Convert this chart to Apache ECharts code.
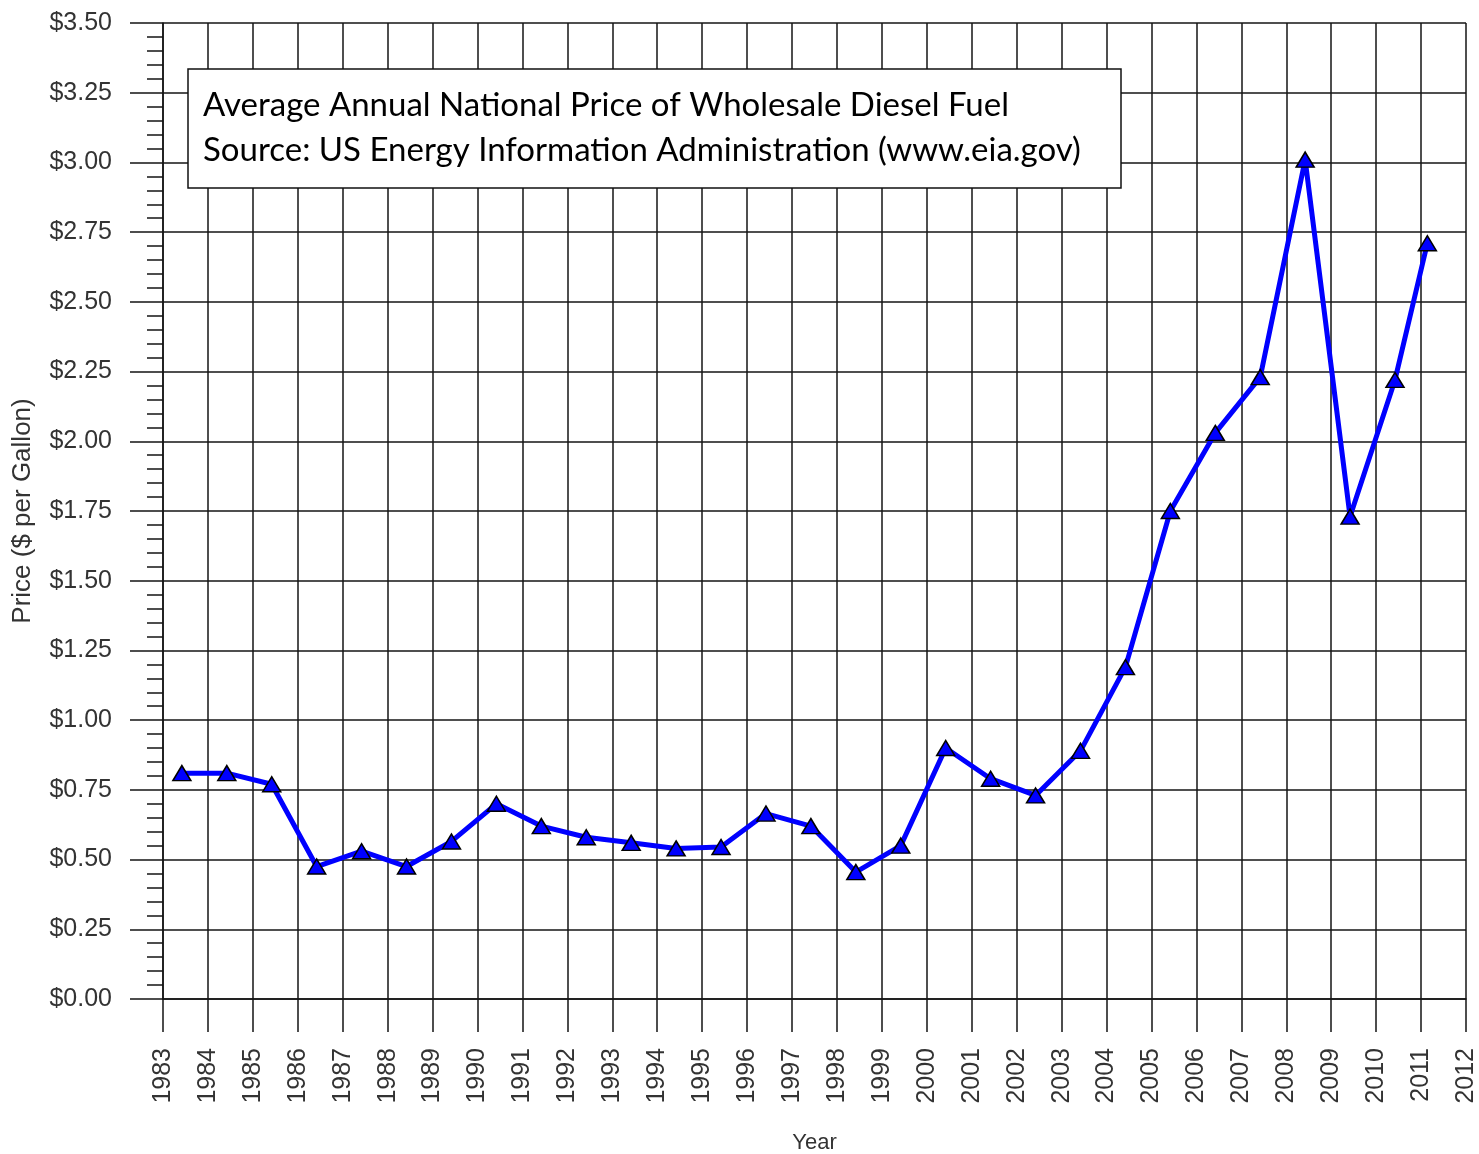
<!DOCTYPE html>
<html>
<head>
<meta charset="utf-8">
<script src="https://cdn.jsdelivr.net/npm/echarts@6/dist/echarts.min.js"></script>
<style>
html,body{margin:0;padding:0;background:#fff;}
#c{width:1479px;height:1154px;}
</style>
</head>
<body>
<div id="c"></div>
<script>
// Year position (mid-year plotting) and price in $ per gallon
const years = [1983.42,1984.42,1985.42,1986.42,1987.42,1988.42,1989.42,1990.42,1991.42,1992.42,1993.42,1994.42,1995.42,1996.42,1997.42,1998.42,1999.42,2000.42,2001.42,2002.42,2003.42,2004.42,2005.42,2006.42,2007.42,2008.42,2009.42,2010.42,2011.14];
const prices = [0.81,0.81,0.77,0.475,0.53,0.475,0.565,0.70,0.62,0.58,0.56,0.54,0.545,0.665,0.62,0.455,0.55,0.90,0.79,0.73,0.89,1.19,1.75,2.03,2.23,3.01,1.73,2.22,2.71];
const titleLines = ["Average Annual National Price of Wholesale Diesel Fuel","Source: US Energy Information Administration (www.eia.gov)"];
const xName = "Year";
const yName = "Price ($ per Gallon)";

const chart = echarts.init(document.getElementById('c'), null, {renderer:'canvas'});
const gridColor = '#151515';
const labelFont = {fontFamily:'Liberation Sans, Arial, sans-serif', fontSize:25, color:'#333'};
const boxFont = '33px Lato, "Open Sans", sans-serif';

chart.setOption({
  backgroundColor:'#fff',
  animation:false,
  grid:{left:163, right:13, top:23, bottom:155, containLabel:false, outerBoundsMode:'none'},
  xAxis:{
    type:'value', min:1983, max:2012, interval:1,
    name:xName, nameLocation:'middle', nameGap:133,
    nameTextStyle:{fontFamily:'Liberation Sans, Arial, sans-serif', fontSize:22, color:'#333'},
    axisLine:{show:true, lineStyle:{color:gridColor, width:1.5}},
    axisTick:{show:true, length:33, lineStyle:{color:gridColor, width:1.5}},
    axisLabel:Object.assign({rotate:90, margin:49, formatter:v=>String(Math.round(v))}, labelFont),
    splitLine:{show:true, lineStyle:{color:gridColor, width:1.5}}
  },
  yAxis:{
    type:'value', min:0, max:3.5, interval:0.25,
    name:yName, nameLocation:'middle', nameGap:127,
    nameTextStyle:{fontFamily:'Liberation Sans, Arial, sans-serif', fontSize:26, color:'#333'},
    axisLine:{show:true, lineStyle:{color:gridColor, width:1.5}},
    axisTick:{show:true, length:33, lineStyle:{color:gridColor, width:1.5}},
    minorTick:{show:true, splitNumber:5, length:16, lineStyle:{color:gridColor, width:1.5}},
    axisLabel:Object.assign({margin:51, formatter:v=>'$'+v.toFixed(2)}, labelFont),
    splitLine:{show:true, lineStyle:{color:gridColor, width:1.5}}
  },
  graphic:[
    {type:'rect', z:100, zlevel:1, shape:{x:188,y:69,width:933,height:119}, style:{fill:'#fff', stroke:'#111', lineWidth:1.5}},
    {type:'text', z:101, zlevel:1, x:203, y:105, style:{text:titleLines[0], font:boxFont, fill:'#000', verticalAlign:'middle'}},
    {type:'text', z:101, zlevel:1, x:203, y:150, style:{text:titleLines[1], font:boxFont, fill:'#000', verticalAlign:'middle'}}
  ],
  series:[{
    type:'line',
    data:years.map((y,i)=>[y, prices[i]]),
    lineStyle:{color:'#0000ff', width:5},
    itemStyle:{color:'#0000ff', borderColor:'#000', borderWidth:1.5},
    symbol:'triangle', symbolSize:[18,15],
    showSymbol:true, z:10
  }]
});
</script>
</body>
</html>
